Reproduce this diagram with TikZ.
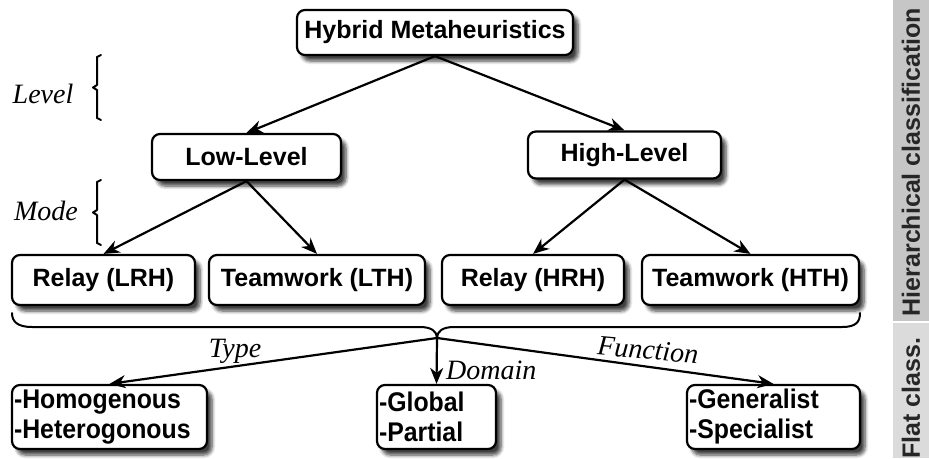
\documentclass[tikz,border=0pt]{standalone}
\usepackage{fontspec}
\setmainfont{Liberation Serif}
\newfontfamily\boxfont{Liberation Sans}
\newfontfamily\listfont[FakeStretch=0.92]{Liberation Sans}
\usetikzlibrary{arrows.meta,shadows.blur}

\begin{document}
\begin{tikzpicture}[x=1pt,y=-1pt,
  box/.style={draw=black, line width=2.2pt, rounded corners=8pt, fill=white,
    font=\boxfont\bfseries\fontsize{25}{30}\selectfont, inner sep=0pt,
    blur shadow={shadow xshift=5pt, shadow yshift=-6pt, shadow blur radius=3.5pt,
      shadow blur steps=6, shadow opacity=75}},
  listbox/.style={box, align=left, inner xsep=2pt,
    font=\listfont\bfseries\fontsize{27}{30}\selectfont},
  conn/.style={line width=2.2pt, -{Stealth[length=16pt,width=13pt,inset=5pt]}},
  brk/.style={line width=2pt, line cap=round, line join=round},
  lbl/.style={font=\itshape\fontsize{28}{30}\selectfont, inner sep=0pt},
  bandtxt/.style={rotate=90, font=\boxfont\bfseries\fontsize{25}{30}\selectfont,
    text=black!85, inner sep=0pt}]
\useasboundingbox (0,0) rectangle (929,458);

% side bands
\fill[gray!45] (893,0) rectangle (929,321);
\fill[gray!28] (893,323) rectangle (929,458);
\node[bandtxt] (hc) at (911,162) {Hierarchical classification};
\node[bandtxt] (fc) at (911,398) {Flat class.};

% hierarchical part
\node[box, minimum width=276, minimum height=45] (hm) at (435,32.5) {Hybrid Metaheuristics};
\node[box, minimum width=189, minimum height=46] (low) at (246.5,157) {Low-Level};
\node[box, minimum width=193, minimum height=47] (high) at (624.5,155) {High-Level};
\node[box, minimum width=183, minimum height=50] (lrh) at (103.5,280) {Relay (LRH)};
\node[box, minimum width=216, minimum height=50] (lth) at (317,280) {Teamwork (LTH)};
\node[box, minimum width=182, minimum height=50] (hrh) at (533,280) {Relay (HRH)};
\node[box, minimum width=217, minimum height=50] (hth) at (750.5,280) {Teamwork (HTH)};

% flat part
\node[listbox, text width=191, minimum height=64] (homo) at (109.5,417) {-Homogenous\\-Heterogonous};
\node[listbox, text width=115, minimum height=64] (glob) at (436.5,417) {-Global\\-Partial};
\node[listbox, text width=169, minimum height=64] (gen) at (773.5,417) {-Generalist\\-Specialist};

\draw[conn] (hm.south) -- (low.north);
\draw[conn] (hm.south) -- (high.north);
\draw[conn] (low.south) -- (lrh.north);
\draw[conn] (low.south) -- (lth.north);
\draw[conn] (high.south) -- (hrh.north);
\draw[conn] (high.south) -- (hth.north);

% brace under the hybrid classes
\coordinate (tip) at (437,338);
\draw[brk] (12,313) .. controls (12,322) and (18,327) .. (32,327) -- (420,327)
  .. controls (431,327) and (437,331) .. (tip)
  .. controls (437,331) and (443,327) .. (454,327) -- (842,327)
  .. controls (856,327) and (860,322) .. (860,313);

\draw[conn] (tip) -- (homo.north);
\draw[conn] (tip) -- (glob.north);
\draw[conn] (tip) -- (gen.north);

\node[lbl] (type) at (235,351) {Type};
\node[lbl, anchor=west] (dom) at (446,370) {Domain};
\node[lbl, rotate=-5] (fun) at (648,350) {Function};

% level and mode brackets
\draw[brk] (101,55) -- (97,57) -- (97,85) -- (93,87.5) -- (97,90) -- (97,118) -- (101,120);
\draw[brk] (101,180) -- (97,182) -- (97,210) -- (93,212.5) -- (97,215) -- (97,243) -- (101,245);
\node[lbl] (lev) at (43,94) {Level};
\node[lbl] (mode) at (46,211) {Mode};
\end{tikzpicture}
\end{document}
